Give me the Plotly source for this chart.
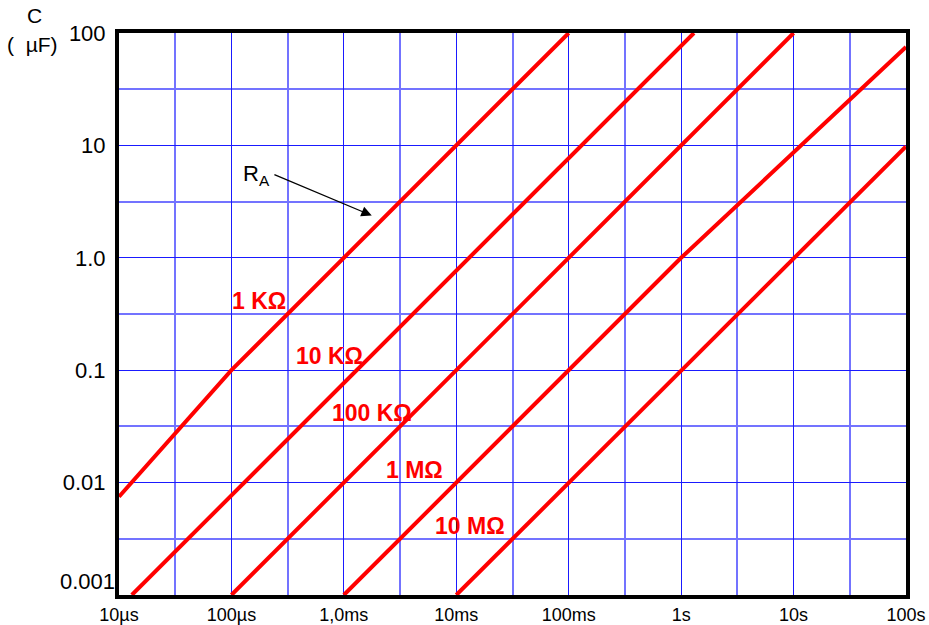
import plotly.graph_objects as go

# ---- data ----
x_tick_vals = [1e-5, 1e-4, 1e-3, 1e-2, 1e-1, 1, 10, 100]
x_tick_text = ["10µs", "100µs", "1,0ms", "10ms", "100ms", "1s", "10s", "100s"]
y_tick_vals = [0.001, 0.01, 0.1, 1, 10, 100]
y_tick_text = ["0.001", "0.01", "0.1", "1.0", "10", "100"]
x_half = [3.162e-5, 3.162e-4, 3.162e-3, 3.162e-2, 3.162e-1, 3.162, 31.62]
y_half = [3.162e-3, 3.162e-2, 3.162e-1, 3.162, 31.62]

# time (s) vs capacitance (µF) for each resistor
t_1k = [1e-5, 1e-4, 0.1]
c_1k = [0.0075, 0.1, 100]
t_10k = [1.3e-5, 1.3]
c_10k = [0.001, 100]
t_100k = [1e-4, 10]
c_100k = [0.001, 100]
t_1m = [1e-3, 1, 100]
c_1m = [0.001, 1, 75]
t_10m = [1e-2, 100]
c_10m = [0.001, 9.8]

labels = ["1 KΩ", "10 KΩ", "100 KΩ", "1 MΩ", "10 MΩ"]
label_pos = [(0.178, 0.524), (0.268, 0.425), (0.321, 0.323), (0.375, 0.223), (0.446, 0.123)]

FONT = "Liberation Sans, Arial, sans-serif"

fig = go.Figure()
for t, c in [(t_1k, c_1k), (t_10k, c_10k), (t_100k, c_100k), (t_1m, c_1m), (t_10m, c_10m)]:
    fig.add_trace(go.Scatter(x=t, y=c, mode="lines",
                             line=dict(color="#ff0000", width=4),
                             showlegend=False, hoverinfo="skip"))

annotations = []
for txt, (px, py) in zip(labels, label_pos):
    annotations.append(dict(text=f"<b>{txt}</b>", xref="paper", yref="paper",
                            x=px, y=py, xanchor="center", yanchor="middle",
                            showarrow=False,
                            font=dict(family=FONT, size=23, color="#ff0000")))

# R_A pointer
annotations.append(dict(text="", x=-2.752, y=0.376, xref="x", yref="y",
                        ax=-3.631, ay=0.746, axref="x", ayref="y",
                        showarrow=True, arrowhead=2, arrowsize=1.6,
                        arrowwidth=1.3, arrowcolor="black"))
annotations.append(dict(text="R<sub>A</sub>", x=-3.775, y=0.735, xref="x", yref="y",
                        xanchor="center", yanchor="middle", showarrow=False,
                        font=dict(family=FONT, size=22, color="black")))
# axis title
annotations.append(dict(text="C", xref="paper", yref="paper", x=-0.108, y=1.031,
                        xanchor="center", yanchor="middle", showarrow=False,
                        font=dict(family=FONT, size=21, color="black")))
annotations.append(dict(text="(\u00a0\u00a0µF)", xref="paper", yref="paper", x=-0.11, y=0.98,
                        xanchor="center", yanchor="middle", showarrow=False,
                        font=dict(family=FONT, size=21, color="black")))
# lowest y label sits slightly above the corner in the reference
annotations.append(dict(text=y_tick_text[0], xref="paper", yref="paper", x=-0.002, y=0.024,
                        xanchor="right", yanchor="middle", showarrow=False,
                        font=dict(family=FONT, size=22, color="black")))
shown_y_text = [""] + y_tick_text[1:]

fig.update_layout(
    width=929, height=625,
    margin=dict(l=119, r=23, t=33, b=30),
    paper_bgcolor="white", plot_bgcolor="white",
    annotations=annotations,
    font=dict(family=FONT, color="black"),
)
fig.update_xaxes(type="log", range=[-5, 2], automargin=False,
                 tickmode="array", tickvals=x_tick_vals, ticktext=x_tick_text,
                 tickfont=dict(family=FONT, size=18, color="black"),
                 showgrid=True, gridcolor="#1a1aff", gridwidth=1.3,
                 minor=dict(tickvals=x_half, showgrid=True, gridcolor="#7373ff", gridwidth=1.5, ticks=""),
                 showline=True, linecolor="black", linewidth=4, mirror=True,
                 ticks="", zeroline=False, ticklabelstandoff=0)
fig.update_yaxes(type="log", range=[-3, 2], automargin=False,
                 tickmode="array", tickvals=y_tick_vals, ticktext=shown_y_text,
                 tickfont=dict(family=FONT, size=22, color="black"),
                 showgrid=True, gridcolor="#1a1aff", gridwidth=1.3,
                 minor=dict(tickvals=y_half, showgrid=True, gridcolor="#7373ff", gridwidth=1.5, ticks=""),
                 showline=True, linecolor="black", linewidth=4, mirror=True,
                 ticks="", zeroline=False, ticklabelstandoff=5)

fig.write_html("out.html", config={"displayModeBar": False},
               post_script="document.body.style.margin='0';document.body.style.overflow='hidden';")
